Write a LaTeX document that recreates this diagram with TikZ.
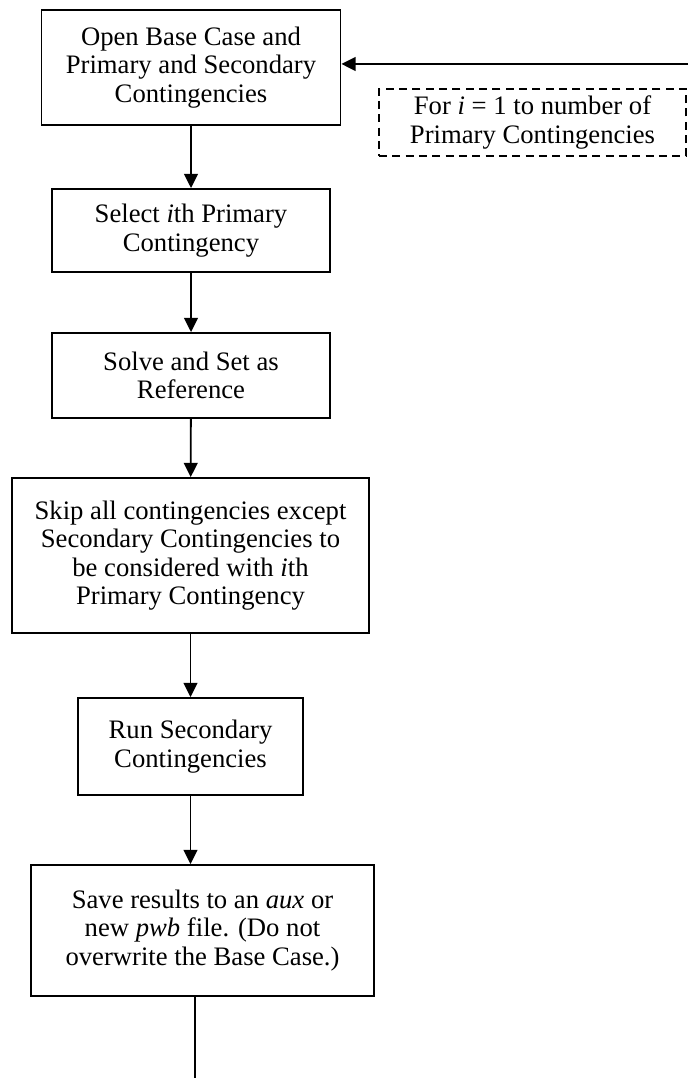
\documentclass[tikz,border=0pt]{standalone}
\usepackage{fontspec}
\setmainfont{Liberation Serif}
\usetikzlibrary{arrows.meta,positioning}

\begin{document}
\begin{tikzpicture}[
    x=0.45pt, y=-0.45pt,
    >={Triangle[length=6.4pt,width=6.2pt]},
    font=\fontsize{12}{12.8}\selectfont,
    line width=0.8pt,
    task/.style={
		rectangle,
		draw=black,
		align=center,
		inner sep=0pt,
		fill=white
	},
	note/.style={
		task,
		dash pattern=on 3.6pt off 2.4pt
	}
  ]
    % We start by placing the blocks
  \useasboundingbox (0,0) rectangle (688,1078);

  \node [task, minimum width=134.6pt, minimum height=51.8pt] (task1) at (191,67.5)
 {Open Base Case and\\ Primary and Secondary\\ Contingencies};

  \node [task, minimum width=125.1pt, minimum height=37.4pt] (task2) at (191,230.5)
 {Select \textit{i}th Primary\\ Contingency};

  \node [task, minimum width=125.1pt, minimum height=38.3pt] (task3) at (191,375.5)
 {Solve and Set as\\ Reference};

  \node [task, minimum width=160.7pt, minimum height=69.8pt] (task4) at (190.5,555.5)
 {Skip all contingencies except\\ Secondary Contingencies to\\ be considered with \textit{i}th\\ Primary Contingency};

  \node [task, minimum width=101.3pt, minimum height=43.7pt] (task5) at (190.5,746.5)
 {Run Secondary\\ Contingencies};

  \node [task, minimum width=154.4pt, minimum height=59pt] (task6) at (202.5,930.5)
 {Save results to an \textit{aux} or\\ new \textit{pwb} file. (Do not\\ overwrite the Base Case.)};

  \node [note, minimum width=138.2pt, minimum height=30.2pt] (loopnote) at (532.5,122.5)
 {For \textit{i} = 1 to number of\\ Primary Contingencies};

  % loop ends
  \coordinate (loopin) at (688,64);
  \coordinate (loopout) at (195,1078);

 \draw [->] (task1) -- (task2);
 \draw [->] (task2) -- (task3);
 \draw [->] (task3) -- (task4);
 \draw [->] (task4) -- (task5);
 \draw [->] (task5.south) -- (task5.south |- task6.north);
 \draw (task6.south -| loopout) -- (loopout);
 \draw [->] (loopin) -- (loopin -| task1.east);

\end{tikzpicture}
\end{document}
